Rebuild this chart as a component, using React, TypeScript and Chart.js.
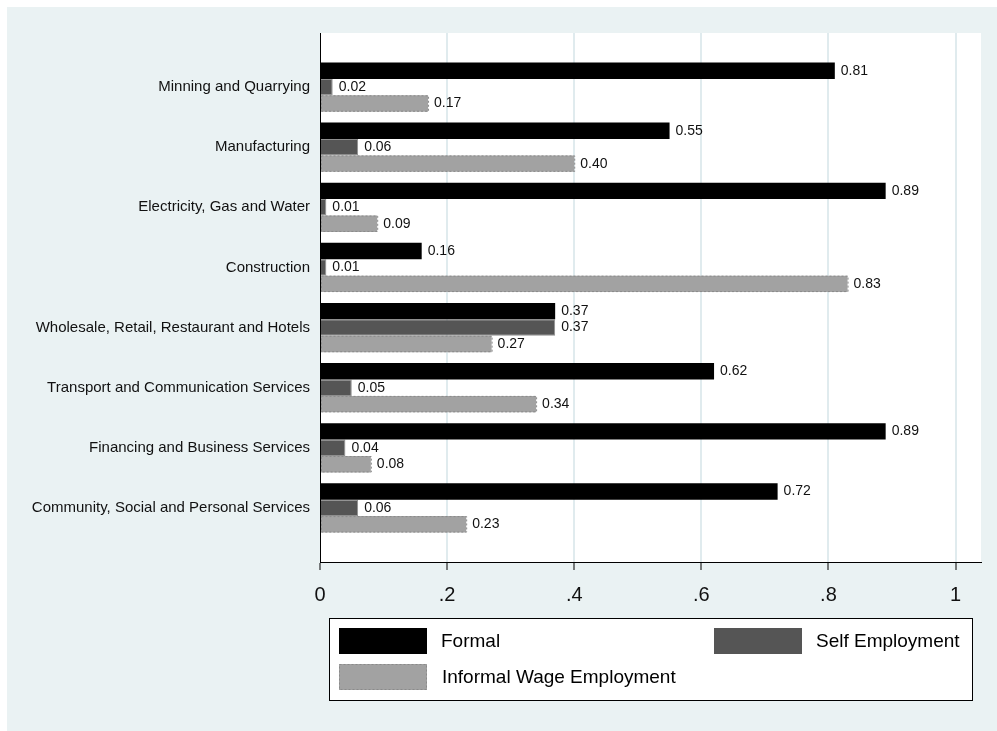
import React, { useEffect, useRef } from "react";
import { Chart, registerables } from "chart.js";

Chart.register(...registerables);

const categories = [
  "Minning and Quarrying",
  "Manufacturing",
  "Electricity, Gas and Water",
  "Construction",
  "Wholesale, Retail, Restaurant and Hotels",
  "Transport and Communication Services",
  "Financing and Business Services",
  "Community, Social and Personal Services",
];
const formal = [0.81, 0.55, 0.89, 0.16, 0.37, 0.62, 0.89, 0.72];
const selfEmployment = [0.02, 0.06, 0.01, 0.01, 0.37, 0.05, 0.04, 0.06];
const informalWage = [0.17, 0.4, 0.09, 0.83, 0.27, 0.34, 0.08, 0.23];
const xTicks = [0, 0.2, 0.4, 0.6, 0.8, 1];
const xTickLabels = ["0", ".2", ".4", ".6", ".8", "1"];
const seriesNames = ["Formal", "Self Employment", "Informal Wage Employment"];

const FONT = "Arial, 'Liberation Sans', sans-serif";

const panelPlugin = {
  id: "panel",
  beforeDraw(chart: any) {
    const { ctx, width, height, chartArea } = chart;
    ctx.save();
    ctx.fillStyle = "#ffffff";
    ctx.fillRect(0, 0, width, height);
    ctx.fillStyle = "#EAF2F3";
    ctx.fillRect(7, 7, width - 7, height - 7);
    ctx.fillStyle = "#ffffff";
    ctx.fillRect(chartArea.left, chartArea.top, chartArea.right - chartArea.left, chartArea.bottom - chartArea.top);
    ctx.restore();
  },
};

const labelPlugin = {
  id: "barLabels",
  afterDatasetsDraw(chart: any) {
    const { ctx } = chart;
    ctx.save();
    const infMeta = chart.getDatasetMeta(2);
    ctx.setLineDash([2, 2]);
    ctx.strokeStyle = "#8a8a8a";
    ctx.lineWidth = 1;
    infMeta.data.forEach((el: any) => {
      const p = el.getProps(["x", "y", "base", "height"], true);
      ctx.strokeRect(p.base + 0.5, p.y - p.height / 2 + 0.5, p.x - p.base, p.height - 1);
    });
    ctx.setLineDash([]);
    ctx.fillStyle = "#111111";
    ctx.font = `14px ${FONT}`;
    ctx.textBaseline = "middle";
    ctx.textAlign = "left";
    chart.data.datasets.forEach((ds: any, di: number) => {
      const meta = chart.getDatasetMeta(di);
      meta.data.forEach((el: any, i: number) => {
        const p = el.getProps(["x", "y"], true);
        ctx.fillText(ds.data[i].x.toFixed(2), p.x + 6, p.y);
      });
    });
    ctx.restore();
  },
};

const legendPlugin = {
  id: "boxLegend",
  afterDraw(chart: any) {
    const { ctx } = chart;
    const ds = chart.data.datasets;
    ctx.save();
    ctx.fillStyle = "#ffffff";
    ctx.fillRect(329, 618, 643, 82);
    ctx.strokeStyle = "#000000";
    ctx.lineWidth = 1;
    ctx.strokeRect(329.5, 618.5, 643, 82);
    const items = [
      { i: 0, sx: 339, sy: 628, tx: 441 },
      { i: 1, sx: 714, sy: 628, tx: 816 },
      { i: 2, sx: 339, sy: 664, tx: 442 },
    ];
    ctx.font = `19px ${FONT}`;
    ctx.textBaseline = "middle";
    items.forEach((it) => {
      const d = ds[it.i];
      ctx.fillStyle = d.backgroundColor;
      ctx.fillRect(it.sx, it.sy, 88, 26);
      if (it.i === 2) {
        ctx.setLineDash([2, 2]);
        ctx.strokeStyle = "#8a8a8a";
        ctx.strokeRect(it.sx + 0.5, it.sy + 0.5, 87, 25);
        ctx.setLineDash([]);
      }
      ctx.fillStyle = "#000000";
      ctx.fillText(d.label, it.tx, it.sy + 14);
    });
    ctx.restore();
  },
};

export default function App() {
  const ref = useRef<HTMLCanvasElement | null>(null);
  useEffect(() => {
    if (!ref.current) return;
    const chart = new Chart(ref.current, {
      type: "bar",
      data: {
        datasets: [
          {
            label: seriesNames[0],
            data: formal.map((v, i) => ({ x: v, y: i })),
            backgroundColor: "#000000",
            borderWidth: 0,
          },
          {
            label: seriesNames[1],
            data: selfEmployment.map((v, i) => ({ x: v, y: i })),
            backgroundColor: "#555555",
            borderColor: "#8f8f8f",
            borderWidth: 1,
          },
          {
            label: seriesNames[2],
            data: informalWage.map((v, i) => ({ x: v, y: i })),
            backgroundColor: "#A2A2A2",
            borderWidth: 0,
          },
        ] as any,
      },
      options: {
        indexAxis: "y",
        animation: false,
        responsive: false,
        devicePixelRatio: 1,
        categoryPercentage: 0.82,
        barPercentage: 1,
        layout: { padding: { left: 0, right: 16, top: 33, bottom: 119 } },
        plugins: { legend: { display: false }, tooltip: { enabled: false } },
        scales: {
          y: {
            type: "linear",
            reverse: true,
            offset: false,
            min: -0.9,
            max: 7.9,
            afterBuildTicks: (scale: any) => {
              scale.ticks = categories.map((_, i) => ({ value: i }));
            },
            afterFit: (scale: any) => {
              scale.width = 320;
            },
            grid: { display: false, drawTicks: false, offset: false },
            border: { display: true, color: "#000000", width: 1 },
            ticks: {
              padding: 10,
              color: "#111111",
              font: { family: FONT, size: 15 },
              callback: (v: any) => categories[v] ?? "",
            },
          },
          x: {
            type: "linear",
            min: 0,
            max: 1.04,
            afterBuildTicks: (scale: any) => {
              scale.ticks = xTicks.map((v) => ({ value: v }));
            },
            afterFit: (scale: any) => {
              scale.height = 50;
            },
            grid: {
              display: true,
              drawOnChartArea: true,
              drawTicks: true,
              tickLength: 8,
              tickColor: "#000000",
              tickWidth: 1,
              lineWidth: 2,
              color: (c: any) => (c.tick && c.tick.value === 0 ? "rgba(0,0,0,0)" : "#E0EBEE"),
            },
            border: { display: true, color: "#000000", width: 1 },
            ticks: {
              padding: 13,
              color: "#111111",
              font: { family: FONT, size: 20 },
              callback: (v: any) => {
                const idx = xTicks.findIndex((t) => Math.abs(t - v) < 1e-9);
                return idx >= 0 ? xTickLabels[idx] : "";
              },
            },
          },
        },
      } as any,
      plugins: [panelPlugin, labelPlugin, legendPlugin],
    });
    return () => chart.destroy();
  }, []);
  return (
    <div style={{ position: "absolute", left: 0, top: 0, width: 997, height: 731 }}>
      <canvas ref={ref} width={997} height={731} style={{ display: "block", width: 997, height: 731 }} />
    </div>
  );
}
